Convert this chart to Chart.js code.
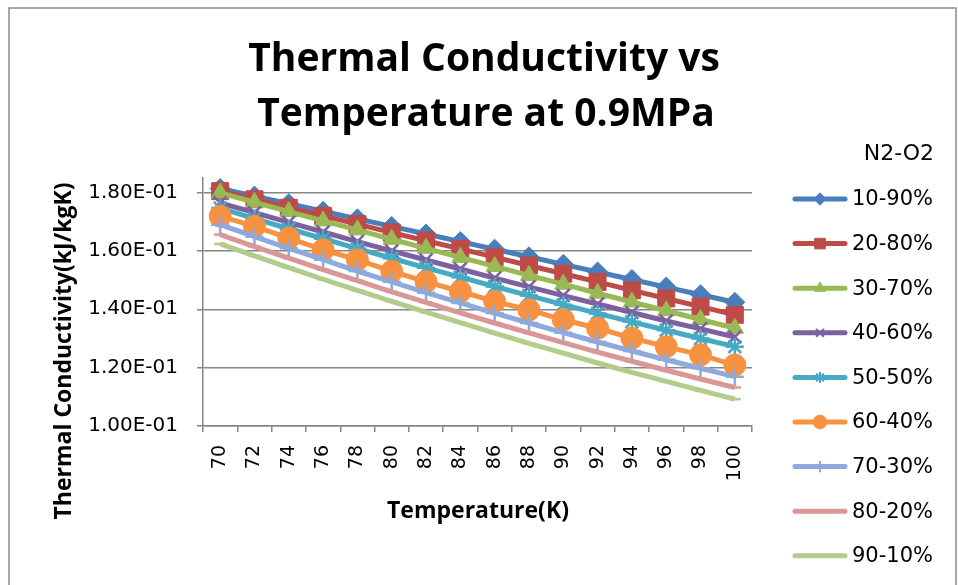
<!DOCTYPE html>
<html lang="en">
<head>
<meta charset="UTF-8">
<title>Thermal Conductivity vs Temperature at 0.9MPa</title>
<script src="https://cdn.jsdelivr.net/npm/chart.js"></script>
<style>
  html, body { margin: 0; padding: 0; background: #fff; }
</style>
</head>
<body>
<canvas id="myChart" width="958" height="585"></canvas>
<script>
// temperatures (K)
const temps = [70, 72, 74, 76, 78, 80, 82, 84, 86, 88, 90, 92, 94, 96, 98, 100];
const seriesNames = ['10-90%', '20-80%', '30-70%', '40-60%', '50-50%', '60-40%', '70-30%', '80-20%', '90-10%'];
// thermal conductivity values
const n10 = [0.1814, 0.1788, 0.1762, 0.1736, 0.1710, 0.1684, 0.1658, 0.1632, 0.1606, 0.1580, 0.1554, 0.1528, 0.1502, 0.1476, 0.1450, 0.1424];
const n20 = [0.1805, 0.1777, 0.1748, 0.1720, 0.1692, 0.1663, 0.1635, 0.1607, 0.1579, 0.1550, 0.1522, 0.1494, 0.1465, 0.1437, 0.1409, 0.1381];
const n30 = [0.1799, 0.1767, 0.1735, 0.1703, 0.1672, 0.1640, 0.1609, 0.1578, 0.1547, 0.1516, 0.1486, 0.1455, 0.1425, 0.1395, 0.1365, 0.1335];
const n40 = [0.1765, 0.1731, 0.1698, 0.1665, 0.1632, 0.1600, 0.1569, 0.1538, 0.1507, 0.1477, 0.1447, 0.1418, 0.1389, 0.1360, 0.1333, 0.1305];
const n50 = [0.1747, 0.1711, 0.1676, 0.1642, 0.1608, 0.1575, 0.1542, 0.1510, 0.1478, 0.1447, 0.1416, 0.1386, 0.1357, 0.1328, 0.1300, 0.1272];
const n60 = [0.1719, 0.1684, 0.1644, 0.1604, 0.1570, 0.1530, 0.1495, 0.1461, 0.1427, 0.1398, 0.1364, 0.1335, 0.1301, 0.1272, 0.1244, 0.1209];
const n70 = [0.1690, 0.1649, 0.1609, 0.1570, 0.1531, 0.1494, 0.1457, 0.1422, 0.1387, 0.1353, 0.1320, 0.1288, 0.1257, 0.1227, 0.1198, 0.1169];
const n80 = [0.1656, 0.1615, 0.1575, 0.1536, 0.1498, 0.1460, 0.1424, 0.1388, 0.1353, 0.1319, 0.1286, 0.1253, 0.1222, 0.1191, 0.1161, 0.1132];
const n90 = [0.1624, 0.1583, 0.1543, 0.1503, 0.1465, 0.1427, 0.1390, 0.1354, 0.1318, 0.1283, 0.1250, 0.1216, 0.1184, 0.1153, 0.1122, 0.1092];
const yTicks = [0.10, 0.12, 0.14, 0.16, 0.18];

const allSeries = [n10, n20, n30, n40, n50, n60, n70, n80, n90];
const colors = ['#4A7EBB', '#BE4B48', '#98B954', '#7D60A0', '#46AAC5', '#F69240', '#8EA9DB', '#D99795', '#B3CB8B'];
const markers = ['rectRot', 'rect', 'triangle', 'crossRot', 'star', 'circle', 'cross', 'line', 'line'];
const markerSize = [10, 12, 10, 9, 9, 11, 9, 6, 6];

function sciLabel(v) {
  const parts = Number(v).toExponential(2).split('e');
  const e = parseInt(parts[1], 10);
  return parts[0] + 'E' + (e < 0 ? '-' : '+') + String(Math.abs(e)).padStart(2, '0');
}

const datasets = allSeries.map((vals, i) => {
  const open = ['crossRot', 'star', 'cross', 'line'].includes(markers[i]);
  return {
    label: seriesNames[i],
    data: vals,
    borderColor: colors[i],
    backgroundColor: colors[i],
    borderWidth: 5,
    pointStyle: markers[i],
    pointRadius: markerSize[i],
    pointBackgroundColor: colors[i],
    pointBorderColor: colors[i],
    pointBorderWidth: open ? 2.5 : 1,
    tension: 0,
    clip: false,
    order: 8 - i
  };
});

// title, axis titles, legend and frame drawn on the canvas
const extras = {
  id: 'extras',
  afterDraw(chart) {
    const ctx = chart.ctx;
    ctx.save();
    ctx.strokeStyle = '#8c8c8c';
    ctx.lineWidth = 1.5;
    ctx.strokeRect(9, 8, 947, 600);

    ctx.fillStyle = '#000';
    ctx.textAlign = 'center';
    ctx.textBaseline = 'alphabetic';
    ctx.font = 'bold 39px "Open Sans"';
    ctx.fillText('Thermal Conductivity vs', 484, 71);
    ctx.fillText('Temperature at 0.9MPa', 486, 126);

    ctx.font = 'bold 23px "Open Sans"';
    ctx.fillText('Temperature(K)', 478, 518);
    ctx.save();
    ctx.translate(71, 351);
    ctx.rotate(-Math.PI / 2);
    ctx.fillText('Thermal Conductivity(kJ/kgK)', 0, 0);
    ctx.restore();

    ctx.font = '22px "DejaVu Sans"';
    ctx.textAlign = 'right';
    ctx.textBaseline = 'middle';
    ctx.fillText('N2-O2', 934, 154);

    ctx.font = '21px "DejaVu Sans"';
    ctx.textAlign = 'left';
    seriesNames.forEach((name, i) => {
      const y = 199 + i * 44.6;
      ctx.strokeStyle = colors[i];
      ctx.lineWidth = 5;
      ctx.lineCap = 'round';
      ctx.beginPath();
      ctx.moveTo(795, y);
      ctx.lineTo(845, y);
      ctx.stroke();
      if (i < 7 && Chart.helpers && Chart.helpers.drawPoint) {
        const open = ['crossRot', 'star', 'cross'].includes(markers[i]);
        ctx.fillStyle = colors[i];
        ctx.strokeStyle = colors[i];
        ctx.lineCap = 'butt';
        ctx.lineWidth = open ? 2 : 1;
        Chart.helpers.drawPoint(ctx, {
          pointStyle: markers[i],
          radius: markerSize[i] * 0.62,
          rotation: 0,
          borderWidth: open ? 2 : 1
        }, 820, y);
      }
      ctx.fillStyle = '#000';
      ctx.fillText(name, 852, y + 1);
    });
    ctx.restore();
  }
};

const ctx = document.getElementById('myChart');
new Chart(ctx, {
  type: 'line',
  data: { labels: temps, datasets: datasets },
  options: {
    responsive: false,
    animation: false,
    layout: { padding: { left: 0, top: 178, right: 206, bottom: 0 } },
    plugins: {
      legend: { display: false },
      title: { display: false },
      tooltip: { enabled: false }
    },
    scales: {
      x: {
        type: 'category',
        offset: true,
        grid: { offset: true, drawOnChartArea: false, color: '#868686', lineWidth: 1.5, tickLength: 6 },
        border: { color: '#868686', width: 1.5 },
        ticks: {
          autoSkip: false, minRotation: 90, maxRotation: 90, padding: 13,
          color: '#000', font: { family: 'DejaVu Sans', size: 19 }
        },
        afterFit(scale) { scale.height = 159; }
      },
      y: {
        min: 0.10,
        max: 0.185,
        afterBuildTicks(scale) { scale.ticks = yTicks.map(v => ({ value: v })); },
        grid: { color: '#868686', lineWidth: 1.5, tickLength: 6 },
        border: { color: '#868686', width: 1.5 },
        ticks: {
          padding: 19, color: '#000', font: { family: 'DejaVu Sans', size: 20 },
          callback: v => sciLabel(v)
        },
        afterFit(scale) { scale.width = 203; }
      }
    }
  },
  plugins: [extras]
});
</script>
</body>
</html>
